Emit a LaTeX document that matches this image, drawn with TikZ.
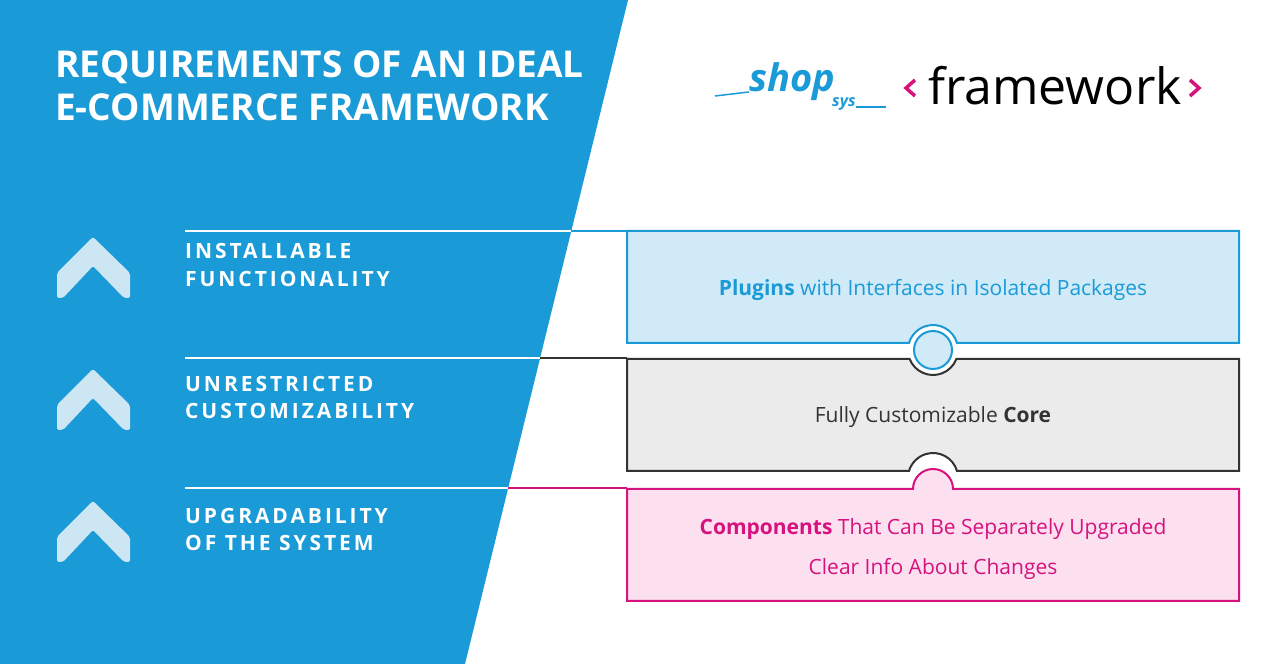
\documentclass[tikz,border=0pt]{standalone}
\usepackage{fontspec}
\setmainfont{Open Sans}
\usetikzlibrary{positioning}
\definecolor{sysblue}{HTML}{1A9AD6}
\definecolor{paleblue}{HTML}{D0EAF8}
\definecolor{chevron}{HTML}{CDE6F3}
\definecolor{corefill}{HTML}{EBEBEB}
\definecolor{coreline}{HTML}{333333}
\definecolor{sysmagenta}{HTML}{D6127E}
\definecolor{palepink}{HTML}{FCE0EF}

\begin{document}
\begin{tikzpicture}[x=1pt,y=1pt,
        title/.style={anchor=base west, text=white, font=\fontsize{37}{40}\selectfont\bfseries, inner sep=0pt},
        req/.style={anchor=base west, text=white, font=\fontsize{21}{24}\selectfont\bfseries\addfontfeatures{LetterSpace=14}, inner sep=0pt},
        boxtext/.style={anchor=base, font=\fontsize{21}{24}\selectfont, inner sep=0pt},
        divider/.style={white, line width=2pt}]
    \useasboundingbox (0,0) rectangle (1267,664);
    \fill[white] (0,0) rectangle (1267,664);
    \fill[sysblue] (0,0) -- (465,0) -- (628,664) -- (0,664) -- cycle;

    % heading
    \node[title] (t1) at (55,586) {REQUIREMENTS OF AN IDEAL};
    \node[title] (t2) at (55,543) {E-COMMERCE FRAMEWORK};

    % logo
    \node[anchor=base, inner sep=0pt, text=sysblue, font=\fontsize{38}{40}\selectfont\bfseries\itshape] (shop) at (792,572) {shop};
    \node[anchor=base west, inner sep=0pt, text=sysblue, font=\fontsize{16}{18}\selectfont\bfseries\itshape] (sys) at (832,557) {sys};
    \draw[sysblue, line width=1.5pt] (715,568) -- (shop.base west);
    \draw[sysblue, line width=1.5pt] (sys.base east) -- (886,557);
    \node[anchor=base, inner sep=0pt, font=\fontsize{50}{52}\selectfont] (fw) at (1055,559) {framework};
    \draw[sysmagenta, line width=3.5pt] (915,584) -- (906,576) -- (915,568);
    \draw[sysmagenta, line width=3.5pt] (1190,584) -- (1199,576) -- (1190,568);

    % requirements
    \foreach \name/\ya/\yb/\la/\lb in {inst/405/377/INSTALLABLE/FUNCTIONALITY,
                                     cust/272/245/UNRESTRICTED/CUSTOMIZABILITY,
                                     upgr/140/113/UPGRADABILITY/OF THE SYSTEM} {
        \node[req] (\name-a) at (185,\ya) {\la};
        \node[req] (\name-b) at (185,\yb) {\lb};
        \fill[chevron, rounded corners=2pt] (57,\yb+14) -- (93,\yb+50) -- (130,\yb+14)
            -- (130,\yb-11) -- (124,\yb-11) -- (93,\yb+21) -- (63,\yb-11) -- (57,\yb-11) -- cycle;
    }

    % dividers
    \draw[divider] (185,433) -- (571.3,433);
    \draw[sysblue, line width=2pt] (571.3,433) -- (627,433);
    \draw[divider] (185,306) -- (540.1,306);
    \draw[coreline, line width=2pt] (540.1,306) -- (627,306);
    \draw[divider] (185,176) -- (508.2,176);
    \draw[sysmagenta, line width=2pt] (508.2,176) -- (627,176);

    % framework layers
    \filldraw[fill=paleblue, draw=sysblue, line width=2pt] (627,433) -- (1239,433) -- (1239,321) -- (957,321)
        arc[start angle=16.3, end angle=163.7, radius=25] -- (627,321) -- cycle;
    \filldraw[fill=paleblue, draw=sysblue, line width=2pt] (933,314) circle[radius=19];
    \filldraw[fill=corefill, draw=coreline, line width=2pt] (627,305) -- (909.7,305)
        arc[start angle=201.1, end angle=338.9, radius=25] -- (1239,305) -- (1239,193) -- (957,193)
        arc[start angle=16.3, end angle=163.7, radius=25] -- (627,193) -- cycle;
    \filldraw[fill=palepink, draw=sysmagenta, line width=2pt] (627,175) -- (913,175)
        arc[start angle=180, end angle=0, radius=20] -- (1239,175) -- (1239,63) -- (627,63) -- cycle;

    \node[boxtext, text=sysblue] (plugins) at (933,368) {\textbf{Plugins} with Interfaces in Isolated Packages};
    \node[boxtext, text=coreline] (core) at (933,241) {Fully Customizable \textbf{Core}};
    \node[boxtext, text=sysmagenta] (comp) at (933,129) {\textbf{Components} That Can Be Separately Upgraded};
    \node[boxtext, text=sysmagenta] (info) at (933,89) {Clear Info About Changes};
\end{tikzpicture}
\end{document}
